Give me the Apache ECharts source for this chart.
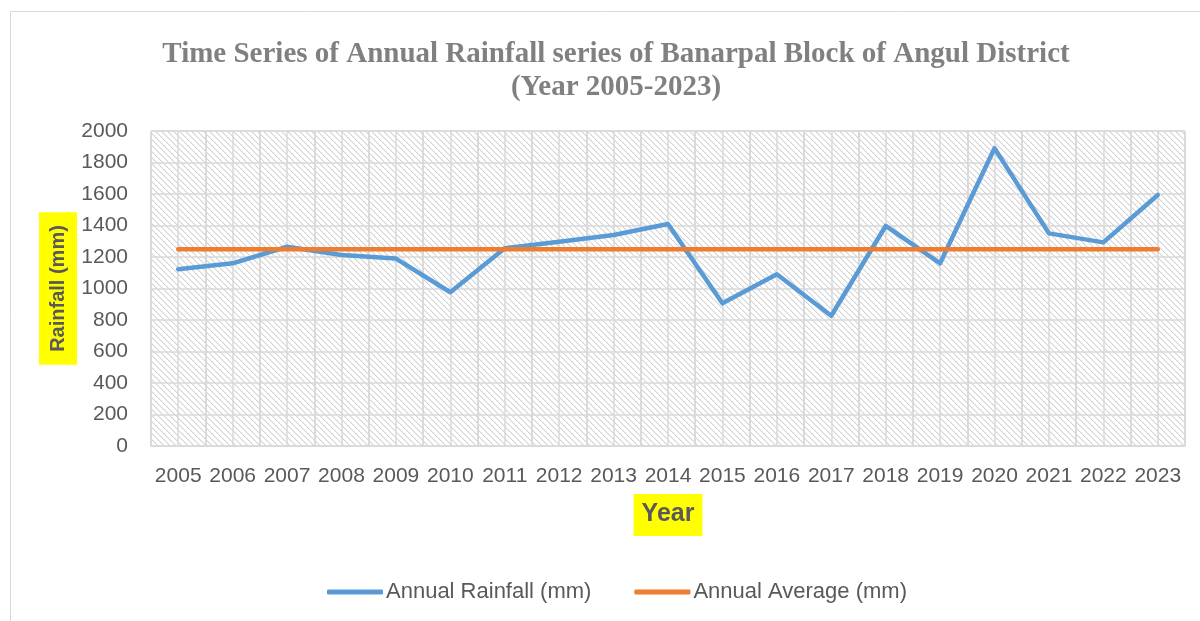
<!DOCTYPE html>
<html>
<head>
<meta charset="utf-8">
<script src="https://cdn.jsdelivr.net/npm/echarts@6/dist/echarts.min.js"></script>
<style>
html,body{margin:0;padding:0;background:#fff;}
#chart{width:1200px;height:621px;}
</style>
</head>
<body>
<div id="chart"></div>
<script>
const years = ['2005','2006','2007','2008','2009','2010','2011','2012','2013','2014','2015','2016','2017','2018','2019','2020','2021','2022','2023'];
const annualRainfall = [1122,1160,1265,1213,1190,976,1255,1297,1340,1410,906,1090,827,1397,1160,1890,1350,1293,1594];
const annualAverage = [1249,1249,1249,1249,1249,1249,1249,1249,1249,1249,1249,1249,1249,1249,1249,1249,1249,1249,1249];
const yTicks = {min:0, max:2000, interval:200};

// hatch pattern for plot background
const pc = document.createElement('canvas');
pc.width = 12; pc.height = 12;
const pctx = pc.getContext('2d');
pctx.fillStyle = '#ffffff';
pctx.fillRect(0,0,12,12);
for (let y=0;y<12;y++){
  for (let x=0;x<12;x++){
    const m = ((x - y) % 6 + 6) % 6;
    if (m===0){ pctx.fillStyle='#d2d2d2'; pctx.fillRect(x,y,1,1); }
    else if (m===1){ pctx.fillStyle=((x+y)%2===0)?'#dadada':'#eeeeee'; pctx.fillRect(x,y,1,1); }
  }
}

const labelFont = 'Liberation Sans';
const chart = echarts.init(document.getElementById('chart'), null, {renderer:'canvas'});
chart.setOption({
  backgroundColor:'#ffffff',
  animation:false,
  title:{
    text:'Time Series of Annual Rainfall series of Banarpal Block of Angul District\n(Year 2005-2023)',
    left:611, top:33, textAlign:'center',
    textStyle:{fontFamily:'Liberation Serif', fontWeight:'bold', fontSize:29, color:'#808080', lineHeight:33}
  },
  graphic:[{
    type:'rect', shape:{x:10.5,y:11.5,width:1300,height:700},
    style:{fill:'none', stroke:'#d9d9d9', lineWidth:1}, silent:true
  }],
  grid:{left:151, right:15, top:131, bottom:175, show:true,
    backgroundColor:{image:pc, repeat:'repeat'}, borderColor:'#d9d9d9', borderWidth:1},
  legend:{
    top:576, left:322,
    itemWidth:56, itemHeight:5, itemGap:43, icon:'roundRect',
    textStyle:{fontFamily:labelFont, fontSize:22, color:'#595959', padding:[0,0,0,-2]},
    data:['Annual Rainfall (mm)','Annual Average (mm)']
  },
  xAxis:[{
    type:'category', data:years, boundaryGap:true,
    axisLine:{show:true, lineStyle:{color:'#d9d9d9'}}, axisTick:{show:false},
    axisLabel:{interval:0, fontFamily:labelFont, fontSize:21, color:'#595959', margin:20},
    splitLine:{show:true, interval:0, lineStyle:{color:'#d9d9d9', width:1.5}},
    name:'Year', nameLocation:'middle', nameGap:48,
    nameTextStyle:{fontFamily:labelFont, fontWeight:'bold', fontSize:25, color:'#595959',
      backgroundColor:'#ffff00', padding:[8,8,9,8]}
  },{
    type:'value', min:0, max:38, interval:1, position:'bottom',
    axisLine:{show:false}, axisTick:{show:false}, axisLabel:{show:false},
    splitLine:{show:true, lineStyle:{color:'#d9d9d9', width:1.5}}
  }],
  yAxis:{
    type:'value', min:yTicks.min, max:yTicks.max, interval:yTicks.interval,
    axisLine:{show:false}, axisTick:{show:false},
    axisLabel:{fontFamily:labelFont, fontSize:21, color:'#595959', margin:23,
      formatter:function(v){return String(v);}},
    splitLine:{show:true, lineStyle:{color:'#d9d9d9', width:1.5}},
    name:'Rainfall (mm)', nameLocation:'middle', nameGap:74, nameRotate:90,
    nameMoveOverlap:false,
    nameTextStyle:{fontFamily:labelFont, fontWeight:'bold', fontSize:20, color:'#595959',
      backgroundColor:'#ffff00', padding:[9,13,9,13]}
  },
  series:[{
    name:'Annual Rainfall (mm)', type:'line', data:annualRainfall, xAxisIndex:0,
    symbol:'none', lineStyle:{color:'#5b9bd5', width:4.5, join:'round', cap:'round'},
    itemStyle:{color:'#5b9bd5'}
  },{
    name:'Annual Average (mm)', type:'line', data:annualAverage, xAxisIndex:0,
    symbol:'none', lineStyle:{color:'#ed7d31', width:4.5, cap:'round'},
    itemStyle:{color:'#ed7d31'}
  }]
});
</script>
</body>
</html>
